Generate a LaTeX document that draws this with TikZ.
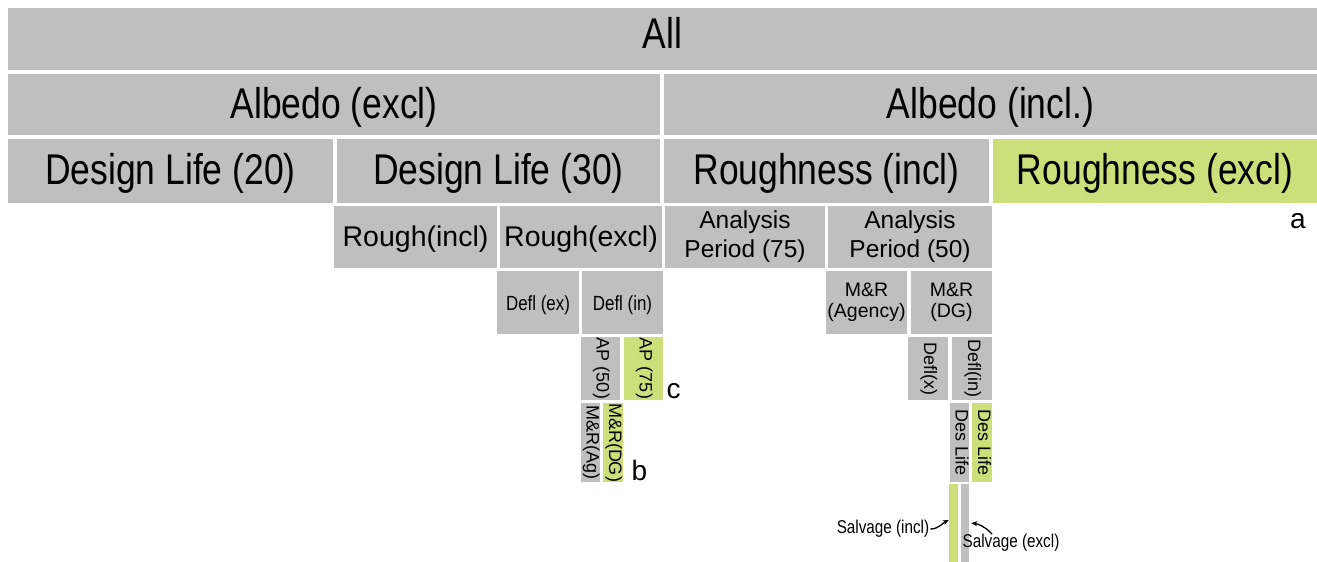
\documentclass[tikz,border=0pt]{standalone}
\usepackage{fontspec}
\setmainfont{Liberation Sans}
\newfontfamily\narrowfont{Liberation Sans}[FakeStretch=0.825]
\usepackage{xcolor}
\usepackage{tikz}
\usetikzlibrary{arrows.meta}
\definecolor{cellGray}{RGB}{191, 191, 191}
\definecolor{cellGreen}{RGB}{205, 223, 122}

\begin{document}
\begin{tikzpicture}[x=1pt, y=-1pt, >={Stealth[length=6pt, width=5pt]},
    cell/.style={fill=cellGray, inner sep=0pt},
    greencell/.style={cell, fill=cellGreen},
    bigtext/.style={font=\narrowfont\fontsize{43}{48}\selectfont, text height=32pt, text depth=5pt},
    midtext/.style={font=\fontsize{28.5}{34}\selectfont, text height=21pt, text depth=3pt},
    aptext/.style={font=\fontsize{24.5}{29}\selectfont, align=center},
    defltext/.style={font=\narrowfont\fontsize{20.5}{24}\selectfont, text height=15pt, text depth=0pt},
    mrtext/.style={font=\fontsize{19.5}{21}\selectfont, align=center},
    vtext/.style={rotate=-90, font=\fontsize{18}{20}\selectfont, text height=12.5pt, text depth=4.5pt},
    tag/.style={inner sep=0pt, font=\fontsize{28}{32}\selectfont},
    saltext/.style={inner sep=0pt, font=\narrowfont\fontsize{18.5}{20}\selectfont},
    pointer/.style={->, line width=1.3pt}
]
    \useasboundingbox (0,0) rectangle (1317,562);

    % level 1 to 3
    \node[cell, bigtext, text depth=14pt, minimum width=1309, minimum height=62] (all) at (662.5,39) {All};
    \node[cell, bigtext, minimum width=652, minimum height=61] (albex) at (334,104.5) {Albedo (excl)};
    \node[cell, bigtext, minimum width=653, minimum height=61] (albin) at (990.5,104.5) {Albedo (incl.)};
    \node[cell, bigtext, minimum width=325, minimum height=64] (dl20) at (170.5,171) {Design Life (20)};
    \node[cell, bigtext, minimum width=323, minimum height=64] (dl30) at (498.5,171) {Design Life (30)};
    \node[cell, bigtext, minimum width=325, minimum height=64] (rin) at (826.5,171) {Roughness (incl)};
    \node[greencell, bigtext, minimum width=324, minimum height=64] (rex) at (1155,171) {Roughness (excl)};

    % level 4 and 5
    \node[cell, midtext, minimum width=163, minimum height=62] (rgin) at (415.5,237) {Rough(incl)};
    \node[cell, midtext, minimum width=162, minimum height=62] (rgex) at (581,237) {Rough(excl)};
    \node[cell, aptext, minimum width=160, minimum height=62] (ap75) at (745,237) {Analysis\\Period (75)};
    \node[cell, aptext, minimum width=164, minimum height=62] (ap50) at (910,237) {Analysis\\Period (50)};
    \node[cell, defltext, minimum width=82, minimum height=63] (dfex) at (538,302.5) {Defl (ex)};
    \node[cell, defltext, minimum width=81, minimum height=63] (dfin) at (622.5,302.5) {Defl (in)};
    \node[cell, mrtext, minimum width=81, minimum height=63] (mrag) at (866.5,302.5) {M\&R\\(Agency)};
    \node[cell, mrtext, minimum width=81, minimum height=63] (mrdg) at (951.5,302.5) {M\&R\\(DG)};

    % narrow columns
    \node[cell, vtext, minimum width=63, minimum height=39] (apv50) at (600.5,368.5) {AP (50)};
    \node[greencell, vtext, minimum width=63, minimum height=39] (apv75) at (643.5,368.5) {AP (75)};
    \node[cell, vtext, minimum width=63, minimum height=40] (dfxv) at (928,368.5) {Defl(x)};
    \node[cell, vtext, minimum width=63, minimum height=40] (dfinv) at (972,368.5) {Defl(in)};
    \node[cell, vtext, minimum width=79, minimum height=19] (mragv) at (590.5,442.5) {M\&R(Ag)};
    \node[greencell, vtext, minimum width=79, minimum height=20] (mrdgv) at (613,442.5) {M\&R(DG)};
    \node[cell, vtext, minimum width=79, minimum height=19] (dlva) at (959.5,442.5) {Des Life};
    \node[greencell, vtext, minimum width=79, minimum height=20] (dlvb) at (982,442.5) {Des Life};
    \node[greencell, minimum width=9, minimum height=78, inner sep=0pt] (svin) at (953.5,523) {};
    \node[cell, minimum width=8, minimum height=78] (svex) at (965,523) {};

    % labels
    \node[tag] (taga) at (1298,221) {a};
    \node[tag] (tagb) at (639.5,470) {b};
    \node[tag] (tagc) at (673.5,391) {c};
    \node[saltext] (salin) at (883,529) {Salvage (incl)};
    \node[saltext] (salex) at (1011,543) {Salvage (excl)};
    \draw[pointer] ([xshift=1pt]salin.east) .. controls +(8,0) and +(-6,3) .. ([yshift=3pt]svin.west);
    \draw[pointer] ([xshift=-19pt]salex.north) .. controls +(-5,-6) and +(8,1) .. ([xshift=2pt]svex.east);
\end{tikzpicture}
\end{document}
